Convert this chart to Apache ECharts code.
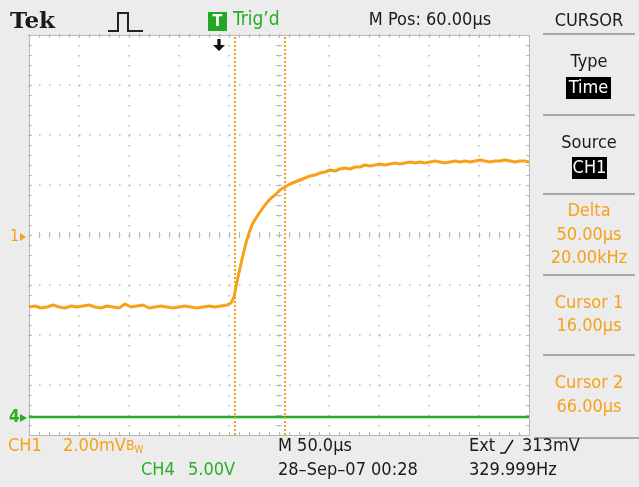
<!DOCTYPE html>
<html>
<head>
<meta charset="utf-8">
<script src="https://cdn.jsdelivr.net/npm/echarts@6/dist/echarts.min.js"></script>
<style>
  html, body { margin: 0; padding: 0; background: #ececec; }
  #chart { width: 639px; height: 487px; }
</style>
</head>
<body>
<div id="chart"></div>
<script>
// time in µs from the left edge of the screen (50 µs/div), CH1 in mV (2 mV/div)
const ch1Time = [0, 6, 12, 18, 24, 30, 36, 42, 48, 54, 60, 66, 72, 78, 84, 90, 96, 102, 108, 114,
  120, 126, 132, 138, 144, 150, 156, 162, 168, 174, 180, 186, 192, 198,
  202, 205, 208, 211, 214, 217, 220, 223, 227, 231, 236, 241, 246, 251, 256, 261, 266, 271,
  276, 281, 286, 291, 296, 301, 306, 311, 316, 321, 326, 331, 336, 341, 346, 351, 356, 361,
  366, 371, 376, 381, 386, 391, 396, 401, 406, 411, 416, 421, 426, 431, 436, 441, 446, 451,
  456, 461, 466, 471, 476, 481, 486, 491, 496, 500]
const ch1Volt = [-2.88, -2.84, -2.92, -2.88, -2.80, -2.88, -2.92, -2.84, -2.88, -2.84, -2.80, -2.88,
  -2.92, -2.84, -2.88, -2.92, -2.76, -2.88, -2.84, -2.80, -2.92, -2.88, -2.84, -2.88, -2.92, -2.88,
  -2.84, -2.88, -2.92, -2.88, -2.84, -2.88, -2.84, -2.80,
  -2.72, -2.48, -1.88, -1.32, -0.80, -0.32, 0.08, 0.40, 0.68, 0.92, 1.20, 1.44, 1.60, 1.80, 1.92,
  2.04, 2.12, 2.20, 2.28, 2.36, 2.40, 2.48, 2.52, 2.60, 2.56, 2.64, 2.68, 2.64, 2.72, 2.72, 2.80,
  2.76, 2.80, 2.84, 2.80, 2.84, 2.88, 2.84, 2.88, 2.92, 2.88, 2.92, 2.88, 2.92, 2.96, 2.92, 2.88,
  2.92, 2.96, 2.92, 2.96, 2.92, 2.96, 3.00, 2.96, 2.92, 2.96, 2.96, 3.00, 2.96, 2.92, 2.96, 2.96, 2.92]

// CH4 in volts (5 V/div), flat with a few small glitches
const ch4Time = [0, 8, 9, 10, 16, 17, 18, 33, 34, 35, 88, 89, 90, 101, 102, 103, 104, 109, 110, 111,
  130, 131, 132, 185, 186, 187, 212, 213, 214, 230, 231, 232, 275, 276, 277, 306, 307, 308,
  380, 381, 382, 420, 421, 422, 460, 461, 462, 475, 476, 477, 500]
const ch4Volt = [0, 0, -0.12, 0, 0, -0.12, 0, 0, -0.12, 0, 0, -0.12, 0, 0, 0.15, -0.12, 0, 0, -0.12, 0,
  0, -0.12, 0, 0, -0.12, 0, 0, -0.12, 0, 0, -0.12, 0, 0, -0.12, 0, 0, 0.12, 0,
  0, -0.12, 0, 0, -0.12, 0, 0, -0.12, 0, 0, -0.12, 0, 0]

const triggerT = 190
const cursor1T = 206
const cursor2T = 256

const ORANGE = '#f7a11a'
const GREEN = '#25b025'
const GRID = '#b8b8b8'
const FONT = '"Liberation Sans Narrow", "DejaVu Sans Condensed", "Liberation Sans", sans-serif'

const toPairs = (xs, ys) => xs.map((x, i) => [x, ys[i]])

function frameAxis(dim, pos, extra) {
  return Object.assign({
    type: 'value',
    position: pos,
    axisLine: { show: true, onZero: false, lineStyle: { color: GRID, width: 1 } },
    axisTick: { show: true, inside: true, length: 3, lineStyle: { color: GRID } },
    minorTick: { show: true, splitNumber: 5, length: 3, lineStyle: { color: GRID } },
    axisLabel: { show: false },
    splitLine: { show: false },
  }, dim === 'x' ? { min: 0, max: 500, interval: 50 } : { min: -8, max: 8, interval: 2 }, extra)
}

function centerAxis(dim, pos, offset, inside) {
  return frameAxis(dim, pos, {
    offset: offset,
    axisLine: { show: false, onZero: false },
    axisTick: { show: true, inside: inside, length: 3, lineStyle: { color: GRID } },
  })
}

const dotted = { show: true, lineStyle: { color: GRID, width: 1.5, type: [1.5, 8.5] } }

const chart = echarts.init(document.getElementById('chart'))

function txt(text, x, y, fill, size, align, extra) {
  return {
    type: 'text',
    style: Object.assign({
      text: text, x: x, y: y, fill: fill,
      font: (size) + 'px ' + FONT,
      textAlign: align || 'left', textVerticalAlign: 'middle',
    }, extra || {}),
  }
}

const sep = (y) => ({ type: 'line', shape: { x1: 543, y1: y, x2: 635, y2: y }, style: { stroke: '#a8a8a8', lineWidth: 2 } })

chart.setOption({
  animation: false,
  backgroundColor: '#ececec',
  grid: { left: 29, top: 35, width: 500, height: 400, show: true, backgroundColor: '#ffffff', borderWidth: 0 },
  xAxis: [
    frameAxis('x', 'bottom', { splitLine: dotted }),
    frameAxis('x', 'top'),
    centerAxis('x', 'bottom', -200, true),
    centerAxis('x', 'bottom', -200, false),
  ],
  yAxis: [
    frameAxis('y', 'left', { splitLine: dotted }),
    frameAxis('y', 'right'),
    centerAxis('y', 'left', -250, true),
    centerAxis('y', 'left', -250, false),
    { type: 'value', min: -1.8, max: 38.2, show: false, splitLine: { show: false } },
  ],
  series: [
    {
      name: 'CH4', type: 'line', xAxisIndex: 0, yAxisIndex: 4,
      data: toPairs(ch4Time, ch4Volt), showSymbol: false,
      lineStyle: { color: GREEN, width: 2.5 },
    },
    {
      name: 'CH1', type: 'line', xAxisIndex: 0, yAxisIndex: 0,
      data: toPairs(ch1Time, ch1Volt), showSymbol: false,
      lineStyle: { color: ORANGE, width: 3 },
      markLine: {
        silent: true, symbol: ['none', 'none'], label: { show: false },
        lineStyle: { color: ORANGE, type: [2, 2], width: 2 },
        data: [{ xAxis: cursor1T }, { xAxis: cursor2T }],
      },
      markPoint: {
        silent: true, label: { show: false },
        symbol: 'path://M4,0 L7,0 L7,6 L11,6 L5.5,12 L0,6 L4,6 Z',
        symbolSize: [12, 12],
        itemStyle: { color: '#111111' },
        data: [{ coord: [triggerT, 7.6] }],
      },
    },
  ],
  graphic: [
    // header
    { type: 'text', style: { text: 'Tek', x: 10, y: 22, fill: '#1a1a1a', font: 'bold 23px "DejaVu Serif", serif', textVerticalAlign: 'middle' } },
    { type: 'polyline', shape: { points: [[108, 31], [118, 31], [118, 13], [128, 13], [128, 31], [143, 31]] }, style: { stroke: '#222', lineWidth: 2, fill: null } },
    { type: 'rect', shape: { x: 208, y: 12, width: 19, height: 19 }, style: { fill: '#22a822' } },
    txt('T', 217.5, 22, '#ffffff', 16, 'center', { font: 'bold 16px ' + FONT }),
    txt('Trig\u2019d', 233, 20, '#22b022', 19),
    txt('M Pos: 60.00\u00b5s', 430, 20, '#1a1a1a', 18, 'center'),
    txt('CURSOR', 589, 21, '#1a1a1a', 18, 'center'),
    sep(34),
    // channel markers
    txt('1', 10, 237, ORANGE, 16),
    { type: 'polygon', shape: { points: [[20, 233], [26, 237], [20, 241]] }, style: { fill: ORANGE } },
    txt('4', 9, 418, GREEN, 17, 'left', { font: 'bold 17px ' + FONT }),
    { type: 'polygon', shape: { points: [[20, 414], [27, 418], [20, 422]] }, style: { fill: GREEN } },
    // right panel
    txt('Type', 589, 62, '#1a1a1a', 18, 'center'),
    { type: 'rect', shape: { x: 566, y: 77, width: 45, height: 22 }, style: { fill: '#000' } },
    txt('Time', 588.5, 88, '#ffffff', 18, 'center'),
    sep(115),
    txt('Source', 589, 143, '#1a1a1a', 18, 'center'),
    { type: 'rect', shape: { x: 572, y: 157, width: 35, height: 22 }, style: { fill: '#000' } },
    txt('CH1', 589.5, 168, '#ffffff', 18, 'center'),
    sep(194),
    txt('Delta', 589, 211, ORANGE, 18, 'center'),
    txt('50.00\u00b5s', 589, 235, ORANGE, 18, 'center'),
    txt('20.00kHz', 589, 258, ORANGE, 18, 'center'),
    sep(275),
    txt('Cursor 1', 589, 303, ORANGE, 18, 'center'),
    txt('16.00\u00b5s', 589, 326, ORANGE, 18, 'center'),
    sep(355),
    txt('Cursor 2', 589, 383, ORANGE, 18, 'center'),
    txt('66.00\u00b5s', 589, 407, ORANGE, 18, 'center'),
    { type: 'line', shape: { x1: 534, y1: 438, x2: 639, y2: 438 }, style: { stroke: '#a8a8a8', lineWidth: 2 } },
    // footer
    txt('CH1', 8, 446, ORANGE, 18),
    {
      type: 'text',
      style: {
        text: '{a|2.00mV}{b|B}{c|W}', x: 63, y: 446, textVerticalAlign: 'middle',
        rich: {
          a: { fill: ORANGE, font: '18px ' + FONT },
          b: { fill: ORANGE, font: '14px ' + FONT },
          c: { fill: ORANGE, font: '10px ' + FONT, padding: [8, 0, 0, 0] },
        },
      },
    },
    txt('M 50.0\u00b5s', 278, 446, '#1a1a1a', 18),
    txt('Ext', 469, 446, '#1a1a1a', 18),
    { type: 'polyline', shape: { points: [[500, 453], [505, 453], [513, 440]] }, style: { stroke: '#1a1a1a', lineWidth: 1.5, fill: null } },
    txt('313mV', 522, 446, '#1a1a1a', 18),
    txt('CH4', 141, 470, GREEN, 18),
    txt('5.00V', 188, 470, GREEN, 18),
    txt('28\u2013Sep\u201307 00:28', 278, 470, '#1a1a1a', 18),
    txt('329.999Hz', 469, 470, '#1a1a1a', 18),
  ],
})
</script>
</body>
</html>
